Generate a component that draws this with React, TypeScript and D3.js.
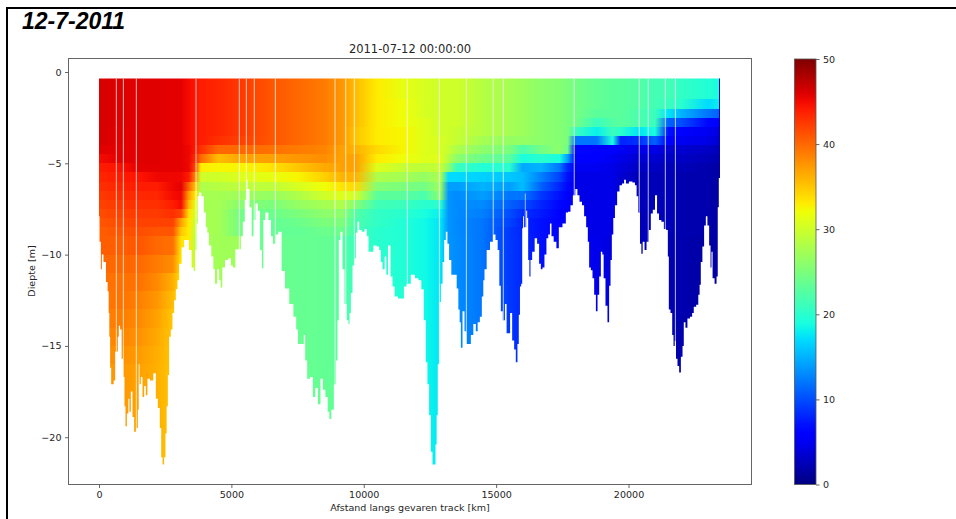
import React, { useEffect, useRef } from "react";
import * as d3 from "d3";

const W = 956;
const H = 519;

const bannerText = "12-7-2011";
const titleText = "2011-07-12 00:00:00";
const xLabel = "Afstand langs gevaren track [km]";
const yLabel = "Diepte [m]";
const xTicks = [0, 5000, 10000, 15000, 20000];
const yTicks = [0, -5, -10, -15, -20];
const cbTicks = [0, 10, 20, 30, 40, 50];

// Bed profile along the track
const trackKm = [0,40,100,115,225,300,350,380,400,440,480,530,580,640,690,730,765,830,880,945,980,1020,1085,1130,1170,1235,1295,1360,1445,1490,1510,1550,1610,1675,1735,1800,1860,1990,2115,2180,2265,2330,2370,2430,2490,2530,2580,2620,2680,2745,2805,2870,2935,2995,3060,3185,3250,3360,3435,3560,3600,3665,3710,3750,3815,3915,4005,4065,4115,4190,4295,4345,4420,4505,4570,4620,4695,4825,4950,5010,5100,5200,5325,5390,5475,5535,5580,5640,5730,5805,5865,5955,6045,6120,6185,6230,6335,6460,6535,6610,6710,6835,6960,7090,7280,7405,7490,7540,7715,7755,7820,7905,8035,8120,8220,8320,8410,8500,8600,8675,8725,8825,8915,8975,9040,9075,9165,9225,9320,9395,9445,9480,9545,9605,9670,9730,9795,9860,9985,10075,10150,10210,10300,10425,10550,10615,10675,10740,10840,10865,10965,11055,11115,11215,11370,11480,11555,11680,11870,12000,12125,12225,12310,12375,12435,12500,12565,12625,12690,12730,12775,12815,12880,12945,13005,13070,13130,13190,13255,13360,13485,13535,13610,13635,13700,13760,13850,13925,14015,14075,14200,14265,14340,14430,14490,14540,14580,14705,14830,14930,15020,15095,15145,15210,15295,15370,15420,15495,15560,15650,15710,15775,15835,15875,15925,15965,16005,16025,16070,16100,16115,16155,16190,16230,16280,16315,16405,16505,16590,16655,16720,16780,16870,16930,17005,17060,17120,17225,17325,17410,17600,17665,17760,17855,17940,18040,18100,18195,18290,18355,18445,18480,18545,18610,18670,18735,18800,18860,18925,18985,19035,19085,19175,19235,19300,19340,19400,19450,19525,19615,19705,19800,19865,19940,20090,20205,20280,20330,20405,20460,20510,20560,20650,20710,20810,20875,20960,21040,21115,21190,21290,21380,21465,21505,21540,21630,21670,21730,21765,21820,21880,21945,22010,22070,22105,22195,22255,22385,22420,22510,22600,22670,22700,22760,22820,22890,22950,23010,23080,23115,23150,23200,23300,23350,23390,23430,23470];
const bedDepth = [-7.9,-9.3,-10.8,-10,-10.4,-11.5,-12,-13.2,-14.5,-16.2,-17.1,-17.1,-16.9,-15.3,-15.3,-14.5,-13.9,-14.1,-15.7,-16.7,-18.3,-19.4,-18.7,-17.9,-18.6,-17.5,-18.9,-19.7,-19.5,-18.5,-16,-17.1,-16.7,-17.8,-17.2,-17.7,-16.8,-16.9,-16.5,-17.9,-18.4,-19.5,-21.1,-21.5,-21.1,-19.8,-18.3,-16.6,-14.5,-14.1,-13.2,-12.5,-11.9,-11.4,-10.5,-9.6,-9.2,-9.2,-9.75,-10.7,-10.9,-9.75,-8.3,-6.8,-6.6,-6.8,-7.7,-8.5,-8.8,-9.5,-10.1,-10.8,-11.6,-10.8,-11.4,-11.8,-10.7,-10.3,-10.2,-10.6,-10.7,-9.7,-9.7,-9,-8.2,-7,-5.9,-6.4,-7.4,-9,-8.1,-7.2,-7.6,-9.75,-10.75,-8.1,-7.7,-8.1,-9,-9.4,-8.9,-8.75,-10.9,-11.85,-12.7,-13.4,-14.1,-14.9,-14.9,-14.4,-15.8,-16.8,-16.7,-17.8,-17.3,-18.2,-16.8,-17.4,-17.8,-18.6,-19,-18.5,-17.1,-15.8,-13.6,-9.2,-8.75,-10.8,-12.7,-13.6,-13.8,-13.2,-12.1,-10.6,-10.2,-8.8,-8.2,-8.65,-8.75,-8.6,-9,-9.85,-9.85,-9.5,-9.55,-9.75,-10.4,-10.8,-10.1,-11.1,-9.5,-11.2,-11.75,-12.3,-12.4,-12.4,-11.75,-11.6,-11.1,-11.3,-11.4,-11.9,-13.6,-15.9,-17.1,-18.8,-20.8,-21.5,-21.5,-20.4,-18.8,-16,-12.6,-11.6,-10.4,-9.2,-8.75,-9.4,-10.3,-11.1,-11.1,-11.85,-13,-13.7,-15.1,-13.1,-14.2,-14.9,-14.9,-14.4,-13.8,-14.2,-13.7,-13.4,-12.3,-11.4,-10.8,-9.75,-9.3,-8.9,-9.2,-9.75,-11.7,-13.1,-13.6,-12.7,-14.3,-14.3,-13.2,-14.7,-15.2,-15.9,-14.9,-13.3,-11.75,-11.6,-8.55,-7.9,-8.5,-6.65,-8.5,-7.6,-8,-10.3,-11.2,-10.3,-9.85,-9.1,-9.4,-10.5,-10.8,-10.7,-10,-9.1,-8.9,-8.3,-9,-9.3,-9.65,-8.5,-8.3,-7.7,-7.65,-7.3,-6.75,-6.4,-6.75,-7.1,-7.3,-7.9,-8.5,-9.3,-10.7,-10.85,-11.3,-12.2,-13.1,-12.2,-11.2,-9.85,-10,-11.3,-12.8,-13.7,-11.7,-10.3,-8.9,-8,-7.3,-6.55,-6.2,-6.1,-5.9,-6.1,-6,-6.05,-6.2,-6.8,-7.7,-9.4,-9.95,-9.3,-9.75,-9.3,-8.65,-7.75,-7.55,-6.75,-7.75,-8.1,-8.2,-8.6,-8.65,-10.1,-13,-13.2,-14.4,-15,-14.7,-15.7,-16.1,-16.45,-15.6,-15,-13.7,-14,-13.5,-13.4,-13.2,-12.85,-12.75,-12.2,-11.65,-10.4,-9.55,-8.4,-7.9,-8.4,-9.5,-10.7,-9.85,-11.3,-11.6,-11.2,-7.4,-5.8,-5.8];

// Vertical gaps in the measurements
const gapKm = [655,920,1410,3665,5300,5565,5865,6660,8915,9320,9645,11645,12855,13875,14890,15270,17950,20405,20745,21390,21770];

// Upper depth bands (m) and the measured values per station
const upperTop = [-0.35,-1.5,-2,-2.5,-3,-3.5,-4,-4.5,-5,-5.5,-6,-6.5,-7,-7.5,-8,-8.5];
const upperBottom = [-1.5,-2,-2.5,-3,-3.5,-4,-4.5,-5,-5.5,-6,-6.5,-7,-7.5,-8,-8.5,-9];
const upperKm = [0,700,1500,2200,2800,3100,3400,3650,3850,4500,5500,6500,7500,8500,9200,9700,10500,11500,12300,12900,13200,13500,14500,15500,16000,16700,17400,17700,18000,18800,19400,19700,20400,21000,21500,22000,23000,23410,23425,23470];
const upperProfiles = [
  [46.2,46.2,46.2,46.2,46.2,46.2,45.8,44.9,44,43.5,43,42.5,42,41.5,41,40.5],
  [46,46,46,46,45.8,45.8,45.6,45.6,44.5,44,43.5,43,42.5,42,41.5,41],
  [45.8,45.8,45.8,45.8,45.8,45.8,45.8,45.8,45.6,44.5,44,43.5,43,42.5,42,41.5],
  [45.8,45.8,45.8,45.8,45.8,45.8,45.8,45.8,45.6,45.2,44,43.5,43,42.5,42,41],
  [45.6,45.6,45.6,45.6,45.6,45.6,45.6,45.6,45.6,45.2,45.2,44.9,44,43,42,41],
  [45.6,45.6,45.6,45.6,45.6,45.6,45.6,45.6,45.6,45.2,45.6,45.2,44.9,42,37,35],
  [44.9,44.9,44.9,44.9,44.9,44.9,45.2,45.2,45.2,44,40,37,35.5,33.5,33,33],
  [44.5,44.5,44.5,44.5,44.5,44.5,44,43,41.5,38,35,33,31.5,30.5,29.5,29],
  [44,44,44,44,44,44,43,40,33,30,28,27.5,27.5,27.5,27.5,27.5],
  [43.5,43.5,43.5,43.5,43.5,43,40,35.5,32.5,30,28.5,27.5,27.5,27.5,27.5,27.5],
  [42.3,42.3,42.3,42.3,42.3,42,40,37,32.5,31,29,27,25.5,24,24,24],
  [41,41,41,41,41,41,39.5,37,33.5,31.5,29,26.5,25,24,23.5,23.5],
  [40,40,40,40,40,40,39,37.5,35,32.5,30.5,28,26.5,25,24,23.5],
  [39,39,39,39,39,39,38.5,38,36.5,34.5,32,30,27.5,26,25,24],
  [37.5,37.5,37.5,37.5,37.5,37.5,37,37,37,36,33.5,31,28,26,25,24],
  [35.5,35.5,35.5,35.5,35,35,36,37,37,36,34,30,25.5,22.5,22,21.5],
  [33,33,33,33,33,33,34,33,31,28,25.5,23,21.5,20.5,20.5,20],
  [31.5,32,32,32,32.5,32.5,32.5,32,29.5,27.5,25,23,21,20,19.5,19.5],
  [30.5,30.5,30.5,31,31,31,31,31,29,26.5,24.5,22,20,19,18.5,18.5],
  [30,30,30,30,30,30.5,30.5,31,29.5,28,27,26,20,18,17.5,17.5],
  [30,30,30,30,30,30,29.5,28.5,26,17,14,13.5,13.5,13.5,13.5,13.5],
  [30,30,30,30,29.5,29.5,28,26,21,17,14,13,13,13,13,13],
  [28.5,28.5,28.5,28.5,28.5,27.5,26,24,19.5,16.5,15,14,13,12.5,12,12],
  [27.5,27.5,27.5,27.5,27.5,26.5,25,23,20,16,14,12,11,10,9.5,9],
  [27,27,27,27,27,26.5,22,19,14.5,15.5,15.5,12,10,8.5,8,8],
  [26,26,26,26,26,26,24.5,20,15,12.5,11,9,8,7.5,7,7],
  [25.5,25.5,25.5,25.5,25.5,25.5,26,19,12,9.5,8,7,6.5,6,6,6],
  [25,25,25,25,25,25,24,14,8,7,6.5,6,5.5,5.5,5.5,5.5],
  [24.5,24.5,24.5,24.5,21,12,6.5,5.5,5,4.5,4.5,4.5,4.5,4.5,4.5,4.5],
  [23.5,23.5,23,21,18,12,6,5.5,5,4.5,4.5,4.5,4.5,4.5,4.5,4.5],
  [23,23,23,22.5,21,19,6,5,4.5,4.5,4.5,4.5,4.5,4.5,4.5,4.5],
  [23,23,23,23,20,8,5,4.5,4,3.5,3.5,3.5,3.5,3.5,3.5,3.5],
  [22.5,22.5,22,22,17.5,8.5,4.5,3.5,3,2.5,2.5,2.5,2.5,2.5,2.5,2.5],
  [21.5,21.5,21,21,19,11,4.5,3.5,3,2.5,2.5,2.5,2.5,2.5,2.5,2.5],
  [21.5,21,17.5,11,7,5.5,3.5,3,2.5,2.5,2.5,2.5,2.5,2.5,2.5,2.5],
  [20.5,20,15,10,5.5,5,3.5,3,2.5,2,2,2,2,2,2,2],
  [19.5,17,12,6.5,5,4.5,3,2.5,2,2,2,2,2,2,2,2],
  [19,18,11,5.5,4,3.5,2.5,2,1.5,1.5,1.5,1.5,1.5,1.5,1.5,1.5],
  [2.5,2.5,2.5,2.5,2.5,2.5,2,2,2,2,2,1.5,1.5,1.5,1.5,1.5],
  [2.5,2.5,2.5,2.5,2.5,2.5,2,2,2,2,2,1.5,1.5,1.5,1.5,1.5],
];

// Lower depth bands and their values per station
const lowerTop = [-9,-10,-11,-12,-13,-14,-15,-16,-17,-18];
const lowerBottom = [-10,-11,-12,-13,-14,-15,-16,-17,-18,-22];
const lowerKm = [0,700,1500,2200,2800,3100,3400,3650,3850,5400,5600,8800,9200,9700,10500,11500,12300,12900,13200,14500,15500,16700,17700,19000,19700,20400,22000,23420,23470];
const lowerProfiles = [
  [40.5,40,39.5,39,38.5,38,38,37.5,37.5,37.5],
  [40.5,40,39.5,39.5,39,38.5,38,37.5,37.5,37.5],
  [41,40,39.5,38.8,38.3,37.8,37.3,37,37,37],
  [40,39,38.2,37.5,36.9,36.5,36.3,36.2,36.2,36.2],
  [39.5,38,36.2,35.5,35,35,35,35,35,35],
  [33.5,33.5,33.5,33.5,33.5,33.5,33.5,33.5,33.5,33.5],
  [33,33,33,33,33,33,33,33,33,33],
  [28.5,28.5,28.5,28.5,28.5,28.5,28.5,28.5,28.5,28.5],
  [27.5,27.5,27.5,27.5,27.5,27.5,27.5,27.5,27.5,27.5],
  [27,27,27,27,27,27,27,27,27,27],
  [24,24,24,24,24,24,24,24,24,24],
  [23.5,23.5,23.5,23.5,23.5,23.5,23.5,23.5,23.5,23.5],
  [22.5,22.5,22.5,22.5,22.5,22.5,22.5,22.5,22.5,22.5],
  [21,21,21,21,21,21,21,21,21,21],
  [20,20,20,20,20,20,20,20,20,20],
  [19.5,19.5,19.5,19.5,19.5,19.5,19.5,19.5,19.5,19.5],
  [18.5,18.5,18.5,18.5,18.5,18.5,18.5,18.5,18.5,18.5],
  [17.5,17.5,17.5,17.5,17.5,17.5,17.5,17.5,17.5,17.5],
  [13.5,13.5,13.5,13.5,13.5,13.5,13.5,13.5,13.5,13.5],
  [12,12,12,12,12,12,12,12,12,12],
  [9,9,9,9,9,9,9,9,9,9],
  [7,7,7,7,7,7,7,7,7,7],
  [5.5,5.5,5.5,5.5,5.5,5.5,5.5,5.5,5.5,5.5],
  [4.5,4.5,4.5,4.5,4.5,4.5,4.5,4.5,4.5,4.5],
  [3.5,3.5,3.5,3.5,3.5,3.5,3.5,3.5,3.5,3.5],
  [2.5,2.5,2.5,2.5,2.5,2.5,2.5,2.5,2.5,2.5],
  [2,2,2,2,2,2,2,2,2,2],
  [1.5,1.5,1.5,1.5,1.5,1.5,1.5,1.5,1.5,1.5],
  [1.5,1.5,1.5,1.5,1.5,1.5,1.5,1.5,1.5,1.5],
];

const FONT = "'DejaVu Sans', sans-serif";
const INK = "#262626";

// matplotlib "jet" colormap anchors
const rScale = d3.scaleLinear([0, 0.35, 0.66, 0.89, 1], [0, 0, 1, 1, 0.5]).clamp(true);
const gScale = d3.scaleLinear([0, 0.125, 0.375, 0.64, 0.91, 1], [0, 0, 1, 1, 0, 0]).clamp(true);
const bScale = d3.scaleLinear([0, 0.11, 0.34, 0.65, 1], [0.5, 1, 1, 0, 0]).clamp(true);
const jet = (t: number) =>
  d3.rgb(rScale(t) * 255, gScale(t) * 255, bScale(t) * 255).formatRgb();

const vScale = d3.scaleLinear([0, 50], [0, 1]);
const x = d3.scaleLinear([-1152, 24645], [68.5, 751.5]);
const y = d3.scaleLinear([0.74, -22.59], [58.5, 484.5]);
const cb = d3.scaleLinear([0, 50], [484.5, 59]);

const bedArea = d3
  .area<number>()
  .curve(d3.curveStep)
  .x((_, i) => x(trackKm[i]))
  .y0(y(upperTop[0]))
  .y1((d) => y(d))(bedDepth) as string;

const cbStops = d3.range(0, 51);
const minus = (v: number) => String(v).replace("-", "\u2212");

const x0 = x(0);
const x1 = x(upperKm[upperKm.length - 1]);

const bands = [
  ...upperTop.map((t, b) => ({
    id: `up${b}`, top: t, bottom: upperBottom[b], km: upperKm, values: upperProfiles.map((p) => p[b]),
  })),
  ...lowerTop.map((t, b) => ({
    id: `lo${b}`, top: t, bottom: lowerBottom[b], km: lowerKm, values: lowerProfiles.map((p) => p[b]),
  })),
];

export default function App() {
  const xRef = useRef<SVGGElement>(null);
  const yRef = useRef<SVGGElement>(null);
  const cRef = useRef<SVGGElement>(null);

  useEffect(() => {
    const style = (g: any) => {
      g.selectAll("path.domain").remove();
      g.selectAll("line").attr("stroke", "#555").attr("stroke-width", 0.9);
      g.selectAll("text")
        .attr("fill", INK)
        .style("font-family", FONT)
        .style("font-size", "9.55px");
    };
    d3.select(xRef.current!)
      .call(d3.axisBottom(x).tickValues(xTicks).tickFormat((d) => String(d)).tickSize(3.5).tickPadding(3.5) as any)
      .call(style);
    d3.select(yRef.current!)
      .call(d3.axisLeft(y).tickValues(yTicks).tickFormat((d) => minus(d as number)).tickSize(3.5).tickPadding(3.5) as any)
      .call(style);
    d3.select(cRef.current!)
      .call(d3.axisRight(cb).tickValues(cbTicks).tickFormat((d) => String(d)).tickSize(3.5).tickPadding(3.5) as any)
      .call(style);
  }, []);

  return (
    <svg
      width={W}
      height={H}
      viewBox={`0 0 ${W} ${H}`}
      style={{ position: "absolute", left: 0, top: 0, display: "block", background: "#fff" }}
    >
      <defs>
        <clipPath id="bed">
          <path d={bedArea} />
        </clipPath>
        {bands.map((band) => (
          <linearGradient key={band.id} id={band.id} gradientUnits="userSpaceOnUse" x1={x0} x2={x1} y1={0} y2={0}>
            {band.km.map((k, i) => (
              <stop key={k} offset={(x(k) - x0) / (x1 - x0)} stopColor={jet(vScale(band.values[i]))} />
            ))}
          </linearGradient>
        ))}
        <linearGradient id="cbar" x1={0} x2={0} y1={1} y2={0}>
          {cbStops.map((v) => (
            <stop key={v} offset={v / 50} stopColor={jet(vScale(v))} />
          ))}
        </linearGradient>
      </defs>

      <rect x={0} y={0} width={W} height={H} fill="#fff" />

      <g clipPath="url(#bed)">
        {bands.map((band) => (
          <rect
            key={band.id}
            x={x0}
            y={y(band.top)}
            width={x1 - x0}
            height={y(band.bottom) - y(band.top)}
            fill={`url(#${band.id})`}
            shapeRendering="crispEdges"
          />
        ))}
        {gapKm.map((k) => (
          <line
            key={k}
            x1={x(k)}
            x2={x(k)}
            y1={y(upperTop[0])}
            y2={y(-22)}
            stroke="#fff"
            strokeOpacity={0.72}
            strokeWidth={1}
          />
        ))}
      </g>

      <rect x={68.5} y={58.5} width={683} height={426} fill="none" stroke="#666" strokeWidth={1} />
      <g ref={xRef} transform="translate(0,484.5)" />
      <g ref={yRef} transform="translate(68.5,0)" />

      <rect x={794.5} y={59} width={21.5} height={425.5} fill="url(#cbar)" stroke="#555" strokeWidth={0.8} />
      <g ref={cRef} transform="translate(816,0)" />

      <text x={410} y={53} textAnchor="middle" fontFamily={FONT} fontSize={11.5} fill={INK}>
        {titleText}
      </text>
      <text x={410} y={510.5} textAnchor="middle" fontFamily={FONT} fontSize={9.55} fill={INK}>
        {xLabel}
      </text>
      <text
        transform="translate(35,271) rotate(-90)"
        textAnchor="middle"
        fontFamily={FONT}
        fontSize={9.55}
        fill={INK}
      >
        {yLabel}
      </text>

      <text
        x={22}
        y={29}
        fontFamily="'Liberation Sans', Arial, sans-serif"
        fontWeight="bold"
        fontStyle="italic"
        fontSize={23}
        fill="#000"
      >
        {bannerText}
      </text>
      <line x1={6} x2={W} y1={8} y2={8} stroke="#000" strokeWidth={2} />
      <line x1={7} x2={7} y1={7} y2={H} stroke="#000" strokeWidth={2} />
    </svg>
  );
}
